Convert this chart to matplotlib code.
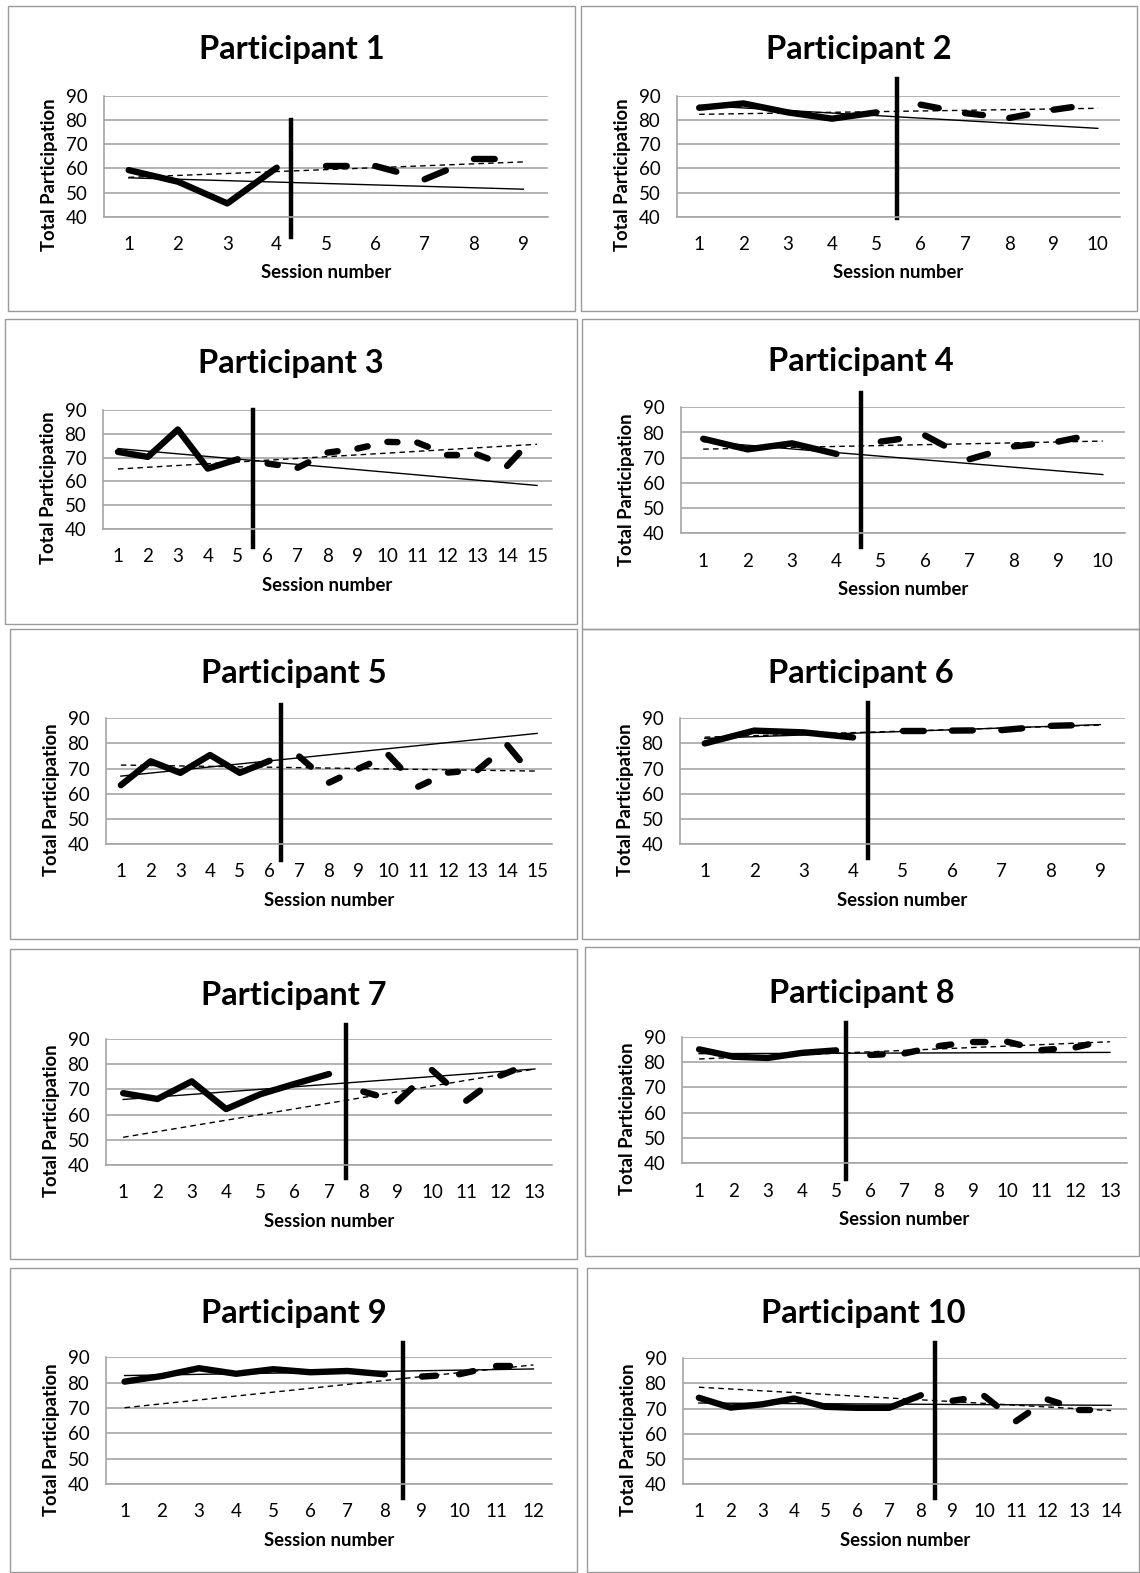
import matplotlib.pyplot as plt
from matplotlib.patches import Rectangle
import numpy as np

plt.rcParams['font.family'] = ['Lato', 'DejaVu Sans']

# values: baseline (solid), intervention (dashed),
# trend line end points, phase change position and the span of the phase bar
p1_base = [59.3, 54.5, 45.5, 60.3]
p1_int = [61.0, 61.0, 55.5, 64.0, 64.0]
p1_base_trend = [56.1, 51.4]
p1_int_trend = [56.3, 62.7]
p1_phase = 4.3
p1_phase_span = [31.7, 80]

p2_base = [85.0, 86.8, 83.1, 80.5, 83.1]
p2_int = [86.3, 82.8, 80.8, 84.2, 86.8]
p2_base_trend = [86.0, 76.5]
p2_int_trend = [82.3, 84.8]
p2_phase = 5.46
p2_phase_span = [39.3, 96.9]

p3_base = [72.4, 70.3, 81.8, 65.4, 69.3]
p3_int = [67.5, 65.7, 72.1, 73.8, 76.6, 76.3, 71.3, 71.3, 66.5, 80.0]
p3_base_trend = [73.8, 58.3]
p3_int_trend = [65.2, 75.6]
p3_phase = 5.5
p3_phase_span = [32.6, 90]

p4_base = [77.5, 73.3, 75.7, 71.5]
p4_int = [76.4, 78.8, 69.4, 74.5, 76.4, 80.0]
p4_base_trend = [76.4, 63.3]
p4_int_trend = [73.4, 76.6]
p4_phase = 4.55
p4_phase_span = [34.7, 95.8]

p5_base = [63.4, 72.9, 68.3, 75.4, 68.3, 73.1]
p5_int = [74.8, 64.4, 70.0, 75.4, 62.8, 68.4, 69.4, 79.3, 65.0]
p5_base_trend = [67.0, 84.0]
p5_int_trend = [71.4, 69.0]
p5_phase = 6.37
p5_phase_span = [33.6, 95.3]

p6_base = [80.0, 85.1, 84.4, 82.4]
p6_int = [85.1, 85.1, 85.3, 87.0, 87.5]
p6_base_trend = [82.0, 87.5]
p6_int_trend = [82.5, 87.3]
p6_phase = 4.3
p6_phase_span = [34.3, 96]

p7_base = [68.5, 66.2, 73.2, 62.2, 68.1, 72.2, 76.1]
p7_int = [69.1, 65.3, 77.7, 65.5, 75.5, 81.0]
p7_base_trend = [66.0, 78.1]
p7_int_trend = [51.0, 78.1]
p7_phase = 7.49
p7_phase_span = [34.7, 95.6]

p8_base = [85.0, 82.1, 81.6, 83.6, 84.6]
p8_int = [82.8, 83.4, 86.3, 88.0, 88.0, 84.7, 85.8, 89.0]
p8_base_trend = [83.3, 83.8]
p8_int_trend = [81.2, 88.0]
p8_phase = 5.29
p8_phase_span = [33.7, 95.3]

p9_base = [80.4, 82.6, 85.7, 83.5, 85.3, 84.1, 84.6, 83.3]
p9_int = [82.4, 83.3, 86.6, 86.6]
p9_base_trend = [82.8, 85.4]
p9_int_trend = [70.1, 87.0]
p9_phase = 8.5
p9_phase_span = [34.3, 95.5]

p10_base = [74.3, 70.4, 71.7, 74.0, 70.7, 70.3, 70.3, 75.3]
p10_int = [73.1, 75.0, 65.0, 73.6, 69.6, 69.6]
p10_base_trend = [72.2, 71.3]
p10_int_trend = [78.5, 69.2]
p10_phase = 8.45
p10_phase_span = [34.3, 96]

participants = [
    (p1_base, p1_int, p1_base_trend, p1_int_trend, p1_phase, p1_phase_span),
    (p2_base, p2_int, p2_base_trend, p2_int_trend, p2_phase, p2_phase_span),
    (p3_base, p3_int, p3_base_trend, p3_int_trend, p3_phase, p3_phase_span),
    (p4_base, p4_int, p4_base_trend, p4_int_trend, p4_phase, p4_phase_span),
    (p5_base, p5_int, p5_base_trend, p5_int_trend, p5_phase, p5_phase_span),
    (p6_base, p6_int, p6_base_trend, p6_int_trend, p6_phase, p6_phase_span),
    (p7_base, p7_int, p7_base_trend, p7_int_trend, p7_phase, p7_phase_span),
    (p8_base, p8_int, p8_base_trend, p8_int_trend, p8_phase, p8_phase_span),
    (p9_base, p9_int, p9_base_trend, p9_int_trend, p9_phase, p9_phase_span),
    (p10_base, p10_int, p10_base_trend, p10_int_trend, p10_phase, p10_phase_span),
]

# layout in pixels: plot area (x0, x1, top, bottom), panel box, title y
plot_areas = [
    (104, 548, 96, 216.7), (677, 1120, 95.7, 216.7),
    (103, 552, 410, 529), (681, 1125, 407.3, 533.3),
    (106, 552, 718.3, 844), (680, 1125, 718.3, 844),
    (106, 552, 1039, 1165), (682, 1127, 1036.7, 1163.3),
    (106, 552, 1357.3, 1484), (683, 1127, 1358.3, 1484),
]
boxes = [
    (8, 575, 6, 311), (581, 1137, 6, 311),
    (5, 577, 319, 624), (582, 1139, 319, 629),
    (10, 577, 629, 939), (582, 1139, 629, 939),
    (10, 577, 949, 1259), (585, 1139, 947, 1256),
    (10, 577, 1268, 1572), (587, 1139, 1268, 1572),
]
title_y = [50, 50, 363, 361, 673, 673, 995, 993, 1314, 1314]

W, H = 1140, 1573
DPI = 100
fig = plt.figure(figsize=(W / DPI, H / DPI), dpi=DPI)
fig.patch.set_facecolor('white')

grey = '#a6a6a6'
thick = 4.6


def dashed_segments(ax, xs, ys):
    # Excel restarts the dash pattern at every point: one dash per segment
    pts = ax.transData.transform(np.column_stack([xs, ys]))
    for i in range(len(xs) - 1):
        seg = np.hypot(*(pts[i + 1] - pts[i])) * 72 / DPI
        on = max((0.55 * seg - thick) / thick, 0.4)
        ax.plot(xs[i:i + 2], ys[i:i + 2], color='black', lw=thick,
                dashes=(on, seg / thick * 2), dash_capstyle='round',
                solid_capstyle='round')


for i, (base, interv, bt, it, phase, span) in enumerate(participants):
    x0, x1, top, bot = plot_areas[i]
    ax = fig.add_axes([x0 / W, 1 - bot / H, (x1 - x0) / W, (bot - top) / H])
    n = len(base) + len(interv)
    ax.set_xlim(0.5, n + 0.5)
    ax.set_ylim(40, 90)
    ax.set_yticks(range(40, 91, 10))
    ax.set_xticks(range(1, n + 1))
    ax.yaxis.grid(True, color=grey, lw=1.2)
    ax.set_axisbelow(True)
    for s in ['top', 'right']:
        ax.spines[s].set_visible(False)
    ax.spines['left'].set_color(grey)
    ax.spines['bottom'].set_color(grey)
    ax.spines['left'].set_linewidth(1.2)
    ax.spines['bottom'].set_linewidth(1.2)
    ax.tick_params(length=0, labelsize=13.5, pad=12)
    ax.tick_params(axis='x', pad=14)

    xb = np.arange(1, len(base) + 1)
    xi = np.arange(len(base) + 1, n + 1)
    ax.plot([1, n], bt, color='black', lw=1.0)
    ax.plot([1, n], it, color='black', lw=1.0, dashes=(4, 3))
    ax.plot(xb, base, color='black', lw=thick, solid_capstyle='round',
            solid_joinstyle='round')
    dashed_segments(ax, xi, interv)
    ax.plot([phase, phase], span, color='black', lw=3.2, clip_on=False)

    ax.set_ylabel('Total Participation', fontsize=13.3, fontweight='bold')
    ax.yaxis.set_label_coords(-46 / (x1 - x0), 0.35)
    ax.set_xlabel('Session number', fontsize=13.3, fontweight='bold',
                  labelpad=8)

    bx0, bx1, by0, by1 = boxes[i]
    fig.add_artist(Rectangle((bx0 / W, 1 - by1 / H), (bx1 - bx0) / W,
                             (by1 - by0) / H, transform=fig.transFigure,
                             fill=False, edgecolor='#9a9a9a', lw=1.0))
    fig.text((bx0 + bx1) / 2 / W, 1 - title_y[i] / H,
             'Participant %d' % (i + 1), ha='center', va='center',
             fontsize=23.5, fontweight='bold')

fig.savefig('out.png', dpi=DPI)
